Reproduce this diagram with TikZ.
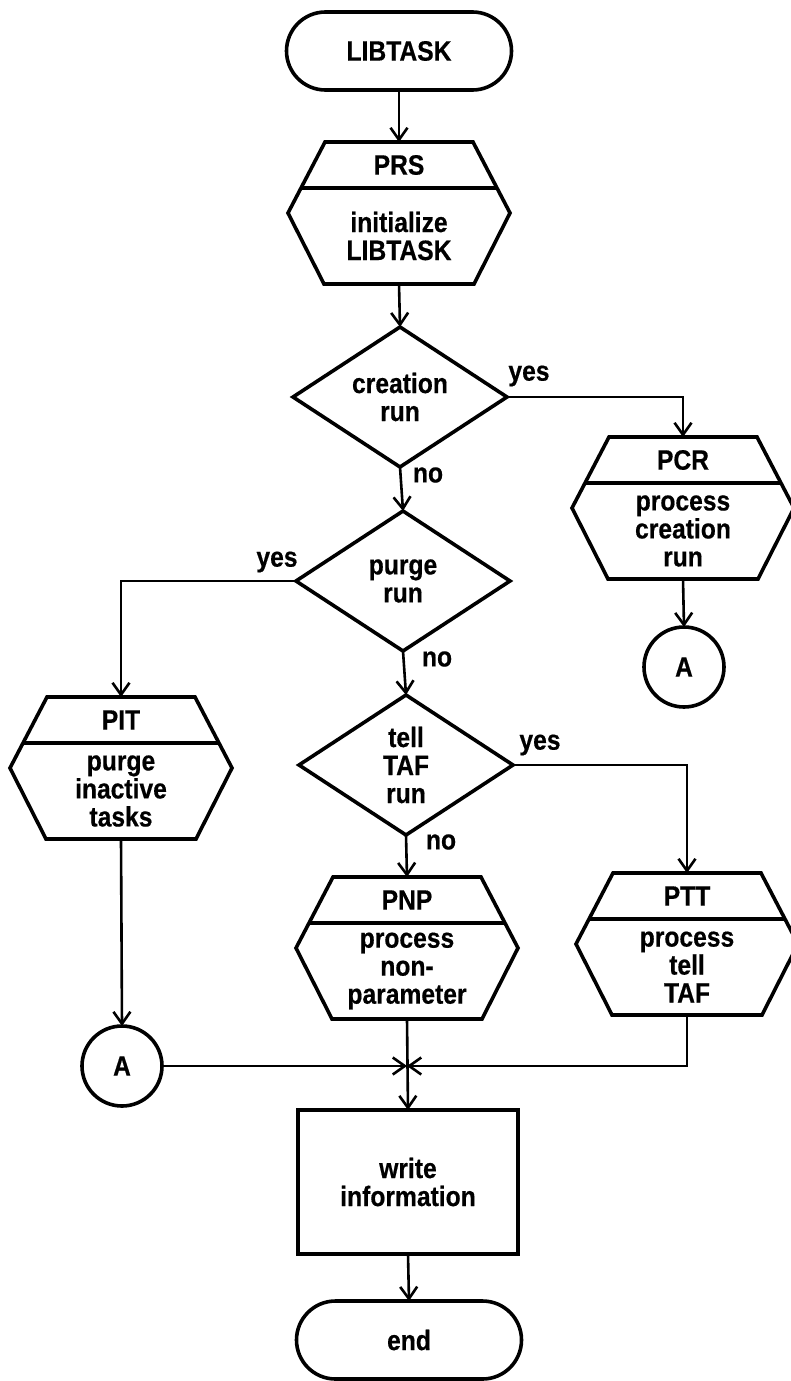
\documentclass[tikz,border=0pt]{standalone}
\usepackage{fontspec}
\setmainfont{Liberation Sans}[FakeStretch=0.88, BoldFeatures={FakeBold=0.5}]
\usetikzlibrary{shapes.geometric,shapes.misc,arrows.meta}

\tikzset{
  outline/.style={line width=3.6pt},
  conn/.style={line width=2.6pt, -{Straight Barb[length=12pt,width=17pt]}},
  txt/.style={font=\fontsize{28}{28}\selectfont\bfseries, align=center, inner sep=0pt, outer sep=0pt},
  terminal/.style={rounded rectangle, draw, outline, txt, minimum width=225pt, minimum height=78pt},
  decision/.style={diamond, aspect=1.5, draw, outline, txt, minimum width=214pt, minimum height=140pt},
  hexframe/.style={rectangle, draw=none, minimum width=222pt, minimum height=142pt, inner sep=0pt, outer sep=0pt},
  connector/.style={circle, draw, outline, txt, minimum size=80pt},
  process/.style={rectangle, draw, outline, txt, minimum width=220pt, minimum height=144pt},
  lbl/.style={txt}
}

% Predefined-process hexagon: name, centre x, top y, title, body
\newcommand{\hexproc}[5]{%
  \node[hexframe] (#1) at (#2,#3+71) {};
  \draw[outline, line join=miter]
    ([xshift=-74pt]#1.north) -- ([xshift=74pt]#1.north) -- (#1.east) --
    ([xshift=75pt]#1.south) -- ([xshift=-75pt]#1.south) -- (#1.west) -- cycle;
  \draw[outline] ([xshift=-98pt,yshift=-46pt]#1.north) -- ([xshift=98pt,yshift=-46pt]#1.north);
  \node[txt] (#1-title) at ([yshift=-23pt]#1.north) {#4};
  \node[txt] (#1-body) at ([yshift=-94pt]#1.north) {#5};
}

\begin{document}
\begin{tikzpicture}[x=1pt,y=-1pt]
\fill[white] (0,0) rectangle (791,1381);
\useasboundingbox (0,0) rectangle (791,1381);

% main column
\node[terminal] (start) at (399,51) {LIBTASK};
\hexproc{prs}{399}{142}{PRS}{initialize\\LIBTASK}
\node[decision] (creation) at (400,397) {creation\\run};
\node[decision] (purge) at (403,581) {purge\\run};
\node[decision] (tell) at (406,765) {tell\\TAF\\run};
\hexproc{pnp}{407}{877}{PNP}{process\\non-\\parameter}
\node[process] (write) at (408,1182) {write\\information};
\node[terminal] (stop) at (409,1340) {end};

% side branches
\hexproc{pcr}{683}{437}{PCR}{process\\creation\\run}
\node[connector] (aright) at (684,667) {A};
\hexproc{pit}{121}{697}{PIT}{purge\\inactive\\tasks}
\node[connector] (aleft) at (122,1066) {A};
\hexproc{ptt}{687}{873}{PTT}{process\\tell\\TAF}

% branch labels
\node[lbl] (yes1) at (529,376) {yes};
\node[lbl] (no1) at (428,475) {no};
\node[lbl] (yes2) at (277,562) {yes};
\node[lbl] (no2) at (437,659) {no};
\node[lbl] (yes3) at (540,745) {yes};
\node[lbl] (no3) at (441,842) {no};

% flow lines
\draw[conn] (start.south) -- (prs.north);
\draw[conn] (prs.south) -- (creation.north);
\draw[conn] (creation.east) -| (pcr.north);
\draw[conn] (pcr.south) -- (aright.north);
\draw[conn] (creation.south) -- (purge.north);
\draw[conn] (purge.west) -| (pit.north);
\draw[conn] (purge.south) -- (tell.north);
\draw[conn] (tell.east) -| (ptt.north);
\draw[conn] (tell.south) -- (pnp.north);
\draw[conn] (pit.south) -- (aleft.north);
\coordinate (j) at (pnp.south |- aleft.east);
\draw[conn] (aleft.east) -- (j);
\draw[conn] (ptt.south) |- (j);
\draw[conn] (pnp.south) -- (write.north);
\draw[conn] (write.south) -- (stop.north);
\end{tikzpicture}
\end{document}
